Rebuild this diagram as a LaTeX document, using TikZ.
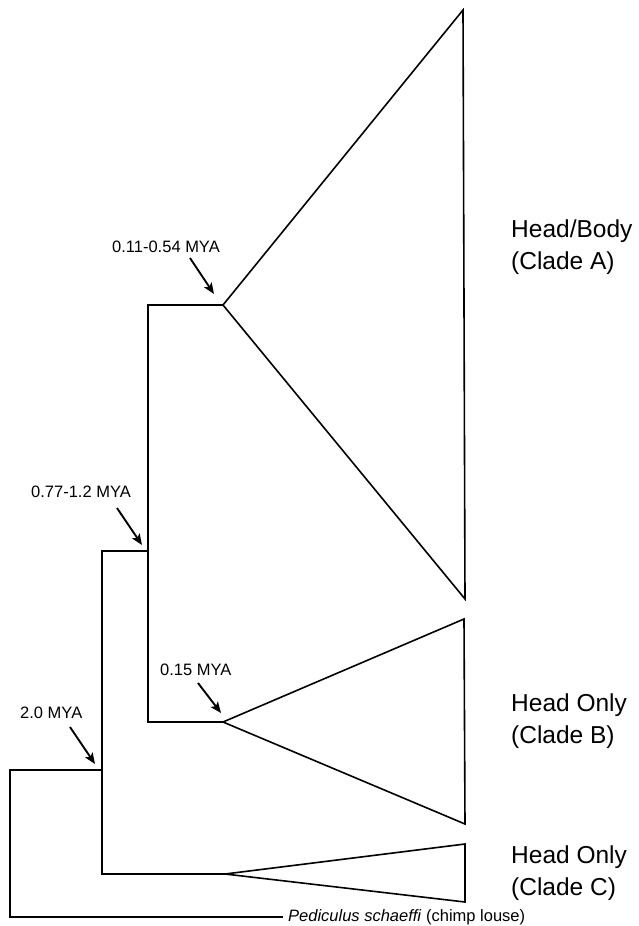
\documentclass[tikz,border=0pt]{standalone}
\usepackage{fontspec}
\setmainfont{Liberation Sans}
\usetikzlibrary{arrows.meta}
\tikzset{
  branch/.style={line width=1.6bp, line join=miter},
  clade/.style={line width=1.6bp, line join=miter},
  agearrow/.style={line width=1.9bp, -{Stealth[length=11bp,width=9bp,inset=2.5bp]}},
  agelabel/.style={inner sep=0pt, font=\fontsize{16.5bp}{19bp}\selectfont},
  cladelabel/.style={inner sep=0pt, font=\fontsize{24.5bp}{32bp}\selectfont},
}
\begin{document}
\begin{tikzpicture}[x=1bp,y=-1bp]
\useasboundingbox (0,0) rectangle (639,926);
% junctions
\coordinate (nA) at (223,305);
\coordinate (nB) at (223,722);
\coordinate (nC) at (225,874);
\coordinate (AB) at (148,551);
\coordinate (ABC) at (102,770);
\coordinate (root) at (10,917);
\coordinate (sch) at (283,917);
% triangle vertices
\coordinate (tA) at (463,10);
\coordinate (bA) at (465,599);
\coordinate (tB) at (464,619);
\coordinate (bB) at (465,824);
\coordinate (tC) at (465,844);
\coordinate (bC) at (465,902);
% tree branches
\draw[branch] (nA) -- (nA -| AB) -- (nB -| AB) -- (nB);
\draw[branch] (AB) -- (AB -| ABC) -- (nC -| ABC) -- (nC);
\draw[branch] (ABC) -- (ABC -| root) -- (root) -- (sch);
% clade triangles
\draw[clade] (nA) -- (tA) -- (bA) -- cycle;
\draw[clade] (nB) -- (tB) -- (bB) -- cycle;
\draw[clade] (nC) -- (tC) -- (bC) -- cycle;
% age labels
\node[agelabel, anchor=base east] (lA) at (220,252) {0.11-0.54 MYA};
\node[agelabel, anchor=base west] (lAB) at (31,497) {0.77-1.2 MYA};
\node[agelabel, anchor=base west] (lB) at (160,675) {0.15 MYA};
\node[agelabel, anchor=base west] (lABC) at (20,718) {2.0 MYA};
% arrows
\coordinate (sA) at (190,258); \coordinate (eA) at (214,294);
\coordinate (sAB) at (117,508); \coordinate (eAB) at (142,545);
\coordinate (sB) at (198,683); \coordinate (eB) at (221,713);
\coordinate (sABC) at (70,727); \coordinate (eABC) at (95,764);
\draw[agearrow] (sA) -- (eA);
\draw[agearrow] (sAB) -- (eAB);
\draw[agearrow] (sB) -- (eB);
\draw[agearrow] (sABC) -- (eABC);
% clade labels
\node[cladelabel, anchor=base west] (cA1) at (511,237) {Head/Body};
\node[cladelabel, anchor=base west] (cA2) at (511,269) {(Clade A)};
\node[cladelabel, anchor=base west] (cB1) at (511,711) {Head Only};
\node[cladelabel, anchor=base west] (cB2) at (511,743) {(Clade B)};
\node[cladelabel, anchor=base west] (cC1) at (511,863) {Head Only};
\node[cladelabel, anchor=base west] (cC2) at (511,895) {(Clade C)};
% outgroup
\node[agelabel, anchor=base west] (out) at (288,921) {\textit{Pediculus schaeffi} (chimp louse)};
\end{tikzpicture}
\end{document}
